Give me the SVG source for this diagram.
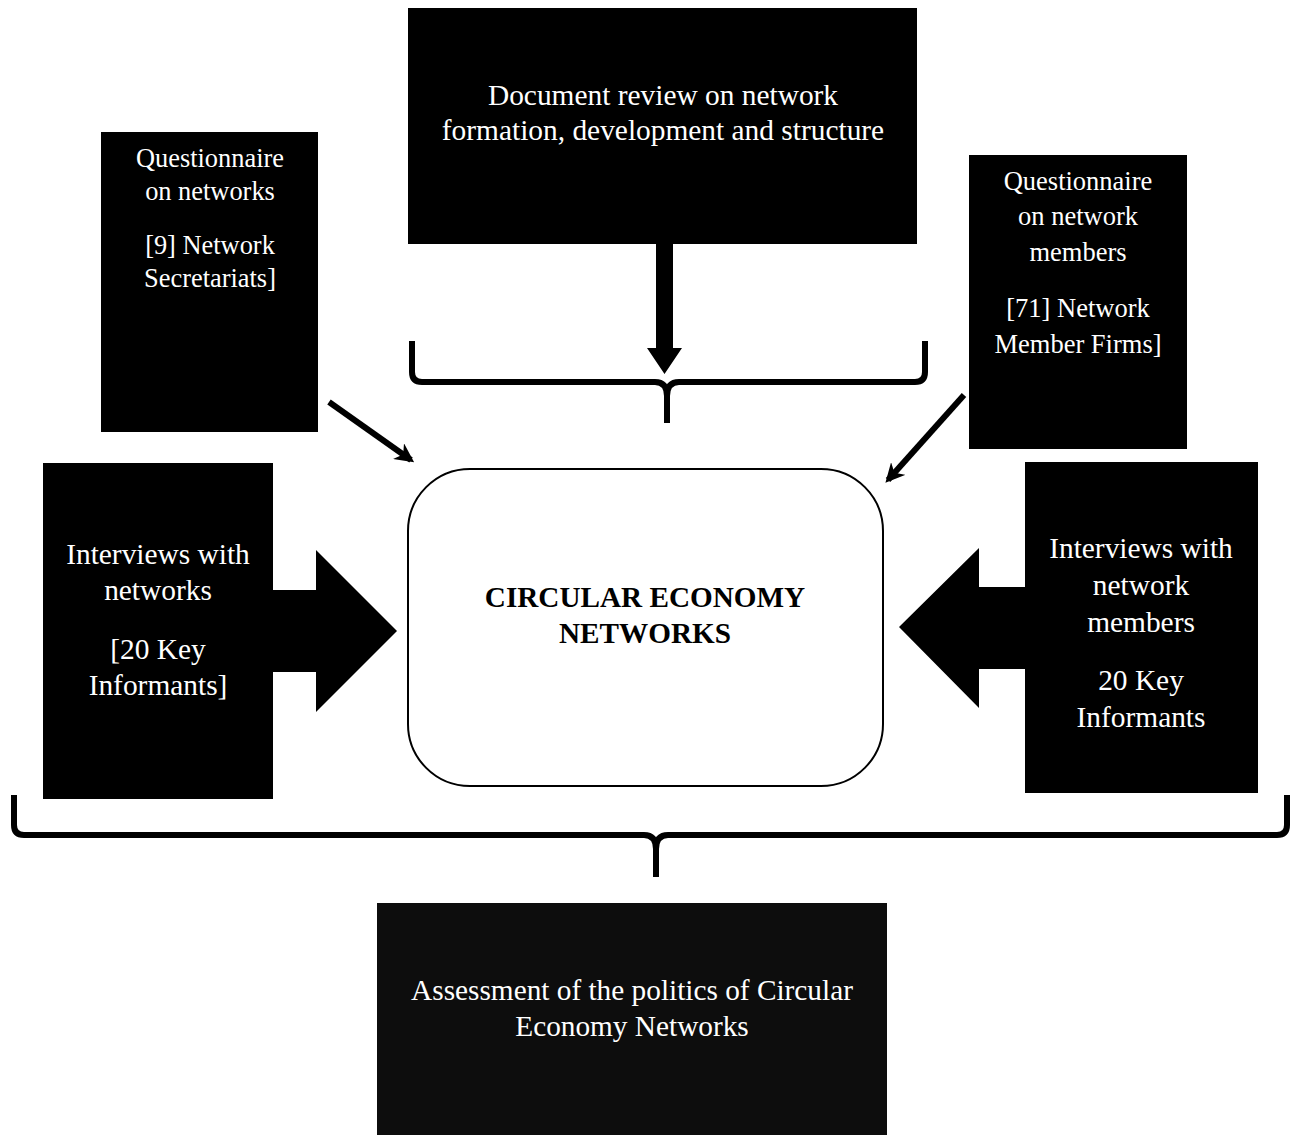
<svg xmlns="http://www.w3.org/2000/svg" width="1297" height="1135" viewBox="0 0 1297 1135">
<style>
.box{fill:#000}
.t{font-family:"Liberation Serif","Times New Roman",serif;fill:#fff;text-anchor:middle}
.brace{fill:none;stroke:#000;stroke-width:6;stroke-linecap:butt;stroke-linejoin:round}
.diag{stroke:#000;stroke-width:6;fill:none}
</style>
<defs>
<marker id="ah" viewBox="0 0 10 10" refX="8" refY="5" markerWidth="3.2" markerHeight="3.2" orient="auto" markerUnits="strokeWidth">
<path d="M0,0 L10,5 L0,10 L3,5 Z" fill="#000"/>
</marker>
</defs>
<rect width="1297" height="1135" fill="#fff"/>

<g id="doc-review">
<rect class="box" x="408" y="8" width="509" height="236"/>
<text class="t" font-size="29.4" x="663" y="105">Document review on network</text>
<text class="t" font-size="29.4" x="663" y="140">formation, development and structure</text>
</g>

<g id="q-networks">
<rect class="box" x="101" y="132" width="217" height="300"/>
<text class="t" font-size="26.4" x="210" y="167">Questionnaire</text>
<text class="t" font-size="26.4" x="210" y="200">on networks</text>
<text class="t" font-size="26.4" x="210" y="254">[9] Network</text>
<text class="t" font-size="26.4" x="210" y="287">Secretariats]</text>
</g>

<g id="q-members">
<rect class="box" x="969" y="155" width="218" height="294"/>
<text class="t" font-size="26.5" x="1078" y="190">Questionnaire</text>
<text class="t" font-size="26.5" x="1078" y="225">on network</text>
<text class="t" font-size="26.5" x="1078" y="261">members</text>
<text class="t" font-size="26.5" x="1078" y="317">[71] Network</text>
<text class="t" font-size="26.5" x="1078" y="353">Member Firms]</text>
</g>

<g id="int-networks">
<rect class="box" x="43" y="463" width="230" height="336"/>
<path class="box" d="M272,590 H316 V550 L397,631 L316,712 V672 H272 Z"/>
<text class="t" font-size="29.4" x="158" y="564">Interviews with</text>
<text class="t" font-size="29.4" x="158" y="600">networks</text>
<text class="t" font-size="29.4" x="158" y="659">[20 Key</text>
<text class="t" font-size="29.4" x="158" y="695">Informants]</text>
</g>

<g id="int-members">
<rect class="box" x="1025" y="462" width="233" height="331"/>
<path class="box" d="M1026,587 H979 V548 L899,627 L979,708 V669 H1026 Z"/>
<text class="t" font-size="29.4" x="1141" y="558">Interviews with</text>
<text class="t" font-size="29.4" x="1141" y="595">network</text>
<text class="t" font-size="29.4" x="1141" y="632">members</text>
<text class="t" font-size="29.4" x="1141" y="690">20 Key</text>
<text class="t" font-size="29.4" x="1141" y="727">Informants</text>
</g>

<g id="center">
<rect x="408" y="469" width="475" height="317" rx="62" ry="62" fill="#fff" stroke="#000" stroke-width="2"/>
<text font-family="'Liberation Serif','Times New Roman',serif" font-weight="bold" font-size="29.2" text-anchor="middle" fill="#000" x="645" y="607">CIRCULAR ECONOMY</text>
<text font-family="'Liberation Serif','Times New Roman',serif" font-weight="bold" font-size="29.2" text-anchor="middle" fill="#000" x="645" y="643">NETWORKS</text>
</g>

<g id="assessment">
<rect x="377" y="903" width="510" height="232" fill="#0d0d0d"/>
<text class="t" font-size="29.3" x="632" y="1000">Assessment of the politics of Circular</text>
<text class="t" font-size="29.3" x="632" y="1036">Economy Networks</text>
</g>

<g id="connectors">
<path class="box" d="M656,244 H673 V348 H682 L664.5,374 L647,348 H656 Z"/>
<path class="brace" d="M412,341 V372 Q412,382 422,382 H655 Q667,382 667,396 V423 M667,396 Q667,382 679,382 H915 Q925,382 925,372 V341"/>
<line class="diag" x1="329" y1="402" x2="411" y2="460" marker-end="url(#ah)"/>
<line class="diag" x1="964" y1="395" x2="888" y2="480" marker-end="url(#ah)"/>
<path class="brace" d="M14,795 V825 Q14,835 24,835 H644 Q656,835 656,849 V877 M656,849 Q656,835 668,835 H1277 Q1287,835 1287,825 V795"/>
</g>
</svg>
